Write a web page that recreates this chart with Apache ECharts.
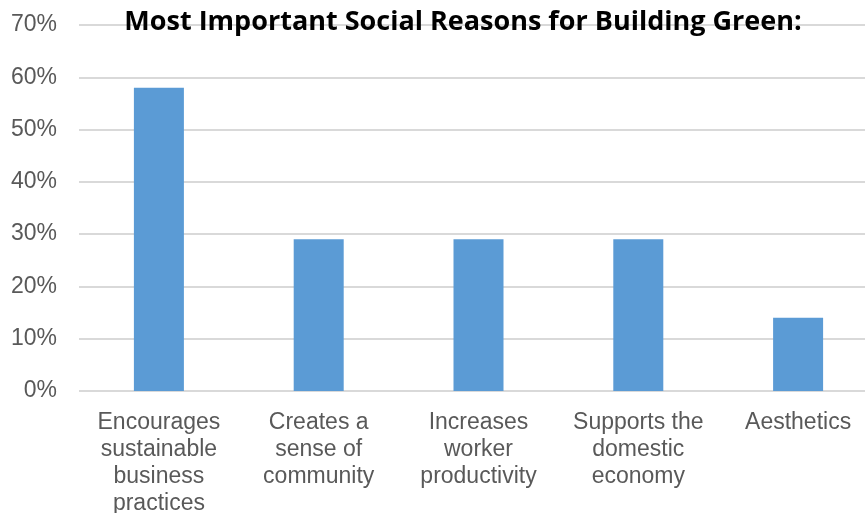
<!DOCTYPE html>
<html>
<head>
<meta charset="utf-8">
<script src="https://cdn.jsdelivr.net/npm/echarts@6/dist/echarts.min.js"></script>
<style>
html, body { margin: 0; padding: 0; background: #fff; }
#main { width: 865px; height: 513px; }
</style>
</head>
<body>
<div id="main"></div>
<script>
var categories = ['Encourages\nsustainable\nbusiness\npractices', 'Creates a\nsense of\ncommunity', 'Increases\nworker\nproductivity', 'Supports the\ndomestic\neconomy', 'Aesthetics'];
var shares = [58, 29, 29, 29, 14];

var chart = echarts.init(document.getElementById('main'));

var option = {
    animation: false,
    title: {
        text: 'Most Important Social Reasons for Building Green:',
        left: 458,
        top: 4,
        textAlign: 'center',
        textStyle: {
            fontFamily: 'Open Sans',
            fontWeight: 'bold',
            fontSize: 27,
            color: '#000'
        }
    },
    grid: {
        left: 79,
        top: 25,
        width: 799,
        height: 366,
        outerBoundsMode: 'none'
    },
    xAxis: {
        type: 'category',
        data: categories,
        axisLine: { show: false },
        axisTick: { show: false },
        axisLabel: {
            interval: 0,
            margin: 18,
            color: '#595959',
            fontFamily: 'Liberation Sans',
            fontSize: 23,
            lineHeight: 27
        }
    },
    yAxis: {
        type: 'value',
        min: 0,
        max: 70,
        interval: 10,
        axisLine: { show: false },
        axisTick: { show: false },
        splitLine: { lineStyle: { color: '#d9d9d9', width: 2 } },
        axisLabel: {
            formatter: '{value}%',
            margin: 22,
            padding: [8, 0, 0, 0],
            color: '#595959',
            fontFamily: 'Liberation Sans',
            fontSize: 23
        }
    },
    series: [{
        type: 'bar',
        data: shares,
        barWidth: 50,
        itemStyle: { color: '#5b9bd5' }
    }]
};

chart.setOption(option);
</script>
</body>
</html>
